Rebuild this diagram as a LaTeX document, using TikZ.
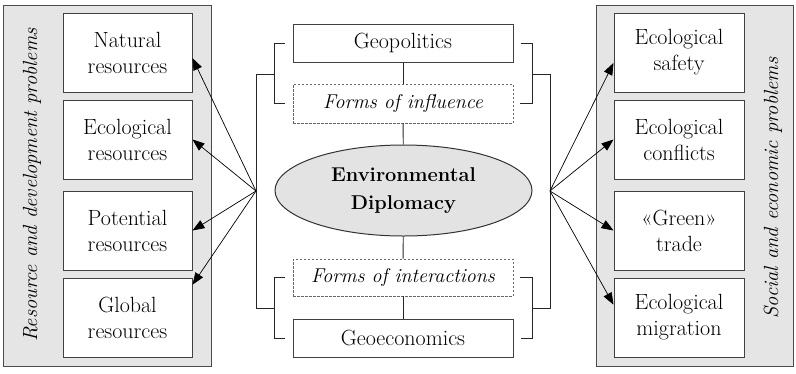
\documentclass[tikz,border=0pt]{standalone}
\usepackage{fontspec}
\usetikzlibrary{arrows.meta,calc,shapes.geometric}
\begin{document}
\begin{tikzpicture}[x=1pt,y=-1pt,
  txt/.style={font=\fontsize{22}{26}\selectfont, text=black},
  panel/.style={draw=black!70, fill=black!10, line width=0.9pt, inner sep=0pt},
  itembox/.style={txt, draw=black!75, fill=white, line width=1pt,
    minimum width=129pt, minimum height=79pt, inner sep=0pt, align=center},
  geobox/.style={txt, draw=black!75, fill=white, line width=1pt,
    minimum width=220pt, minimum height=38pt, inner sep=0pt},
  formbox/.style={txt, font=\fontsize{20}{26}\selectfont\itshape,
    draw=black!60, dash pattern=on 2.5pt off 1.5pt, line width=0.8pt,
    minimum width=220pt, minimum height=38pt, inner sep=0pt},
  hub/.style={ellipse, draw=black!80, fill=black!11, line width=1pt,
    minimum width=257pt, minimum height=91pt, inner sep=0pt, align=center,
    font=\fontsize{20}{28}\selectfont\bfseries, text=black},
  sidelabel/.style={txt, font=\fontsize{20.5}{26}\selectfont\itshape, rotate=90},
  link/.style={draw=black!85, line width=0.9pt},
  ray/.style={draw=black, line width=0.7pt, -{Triangle[length=12pt,width=9pt]}}
]
\useasboundingbox (0,0) rectangle (796,373);

% side panels
\node[panel, minimum width=208pt, minimum height=361pt] (lpanel) at (107,185.5) {};
\node[panel, minimum width=197pt, minimum height=361pt] (rpanel) at (694.5,185.5) {};
\node[sidelabel] (ltitle) at (32,185) {Resource and development problems};
\node[sidelabel] (rtitle) at (773,188) {Social and economic problems};

% left column
\node[itembox] (l1) at (127.5,52.5)  {Natural\\resources};
\node[itembox] (l2) at (127.5,139.5) {Ecological\\resources};
\node[itembox] (l3) at (127.5,230.5) {Potential\\resources};
\node[itembox] (l4) at (127.5,317.5) {Global\\resources};

% right column
\node[itembox, minimum width=130pt] (r1) at (679,52.5)  {Ecological\\safety};
\node[itembox, minimum width=130pt] (r2) at (679,139.5) {Ecological\\conflicts};
\node[itembox, minimum width=130pt] (r3) at (679,230.5) {«Green»\\trade};
\node[itembox, minimum width=130pt] (r4) at (679,317.5) {Ecological\\migration};

% centre column
\node[geobox] (geop) at (403,43) {Geopolitics};
\node[formbox, minimum height=39pt] (infl) at (403,103.5) {Forms of influence};
\node[hub] (env) at (403.5,190.5) {Environmental\\Diplomacy};
\node[formbox, minimum height=37pt] (inter) at (403,277.5) {Forms of interactions};
\node[geobox] (geoe) at (403,338) {Geoeconomics};

\draw[link] (geop) -- (infl);
\draw[link] (infl) -- (env);
\draw[link] (env) -- (inter);
\draw[link] (inter) -- (geoe);

% brackets around the upper and lower pairs
\coordinate (ltop) at (256,74);
\coordinate (lbot) at (256,308);
\coordinate (lhub) at (256,191);
\coordinate (rtop) at (550,74);
\coordinate (rbot) at (550,308);
\coordinate (rhub) at (550,191);

\draw[link] ($(geop.west)+(-8,0)$) -- ++(-10,0) |- ($(infl.west)+(-8,0)$);
\draw[link] ($(inter.west)+(-8,0)$) -- ++(-10,0) |- ($(geoe.west)+(-8,0)$);
\draw[link] ($(geop.east)+(7,0)$) -- ++(12,0) |- ($(infl.east)+(7,0)$);
\draw[link] ($(inter.east)+(7,0)$) -- ++(12,0) |- ($(geoe.east)+(7,0)$);
\draw[link] (275,74) -- (ltop) -- (lbot) -- (275,308);
\draw[link] (532,74) -- (rtop) -- (rbot) -- (532,308);

% rays to the problem boxes
\draw[ray] (lhub) -- ($(l1.north east)!0.57!(l1.south east)$);
\draw[ray] (lhub) -- ($(l2.north east)!0.5!(l2.south east)$);
\draw[ray] (lhub) -- ($(l3.north east)!0.5!(l3.south east)$);
\draw[ray] (lhub) -- ($(l4.north east)!0.09!(l4.south east)$);
\draw[ray] (rhub) -- ($(r1.north west)!0.63!(r1.south west)$);
\draw[ray] (rhub) -- ($(r2.north west)!0.5!(r2.south west)$);
\draw[ray] (rhub) -- ($(r3.north west)!0.5!(r3.south west)$);
\draw[ray] (rhub) -- ($(r4.north west)!0.34!(r4.south west)$);
\end{tikzpicture}
\end{document}
